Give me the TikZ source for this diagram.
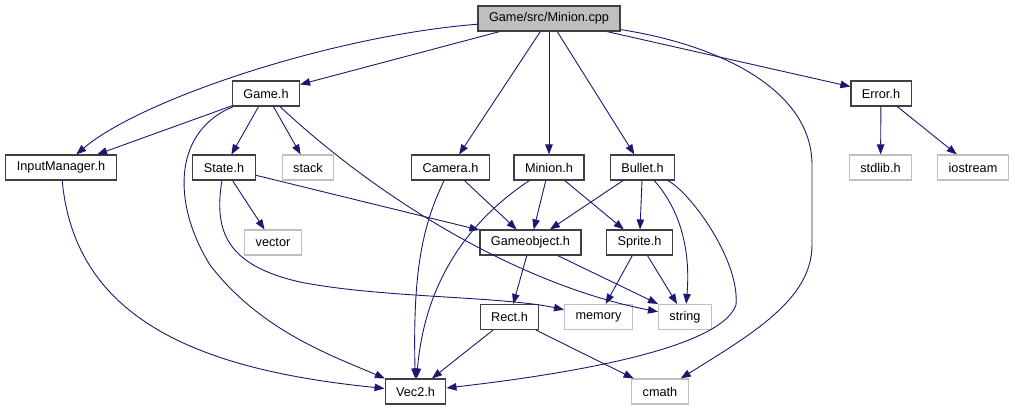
\documentclass[tikz,border=0pt]{standalone}
\usepackage{fontspec}
\setmainfont{Liberation Sans}
\usetikzlibrary{arrows.meta}
\definecolor{Edge}{HTML}{191970}
\definecolor{Frame}{HTML}{404040}
\definecolor{SysGray}{HTML}{BFBFBF}
\tikzset{
  header/.style={
    draw=Frame, line width=1.1pt, fill=white,
    minimum height=25pt, inner xsep=11pt, inner ysep=0pt,
    font=\fontsize{12.7}{14}\selectfont
  },
  syshead/.style={header, draw=SysGray},
  source/.style={header, fill=SysGray},
  dep/.style={-{Triangle[length=10pt,width=7.5pt]}, line width=0.9pt, draw=Edge}
}
\begin{document}
\begin{tikzpicture}[x=1pt,y=-1pt]
    \useasboundingbox (0,0) rectangle (1015,411);
    \node[source] (cpp) at (549,18.5) {Game/src/Minion.cpp};
    \node[header] (gameh) at (266,93.5) {Game.h};
    \node[header] (error) at (881,93.5) {Error.h};
    \node[header] (input) at (61,167.5) {InputManager.h};
    \node[header] (state) at (224,167.5) {State.h};
    \node[syshead] (stack) at (308,167.5) {stack};
    \node[header] (camera) at (450.5,167.5) {Camera.h};
    \node[header] (minion) at (549,167.5) {Minion.h};
    \node[header] (bullet) at (642.5,167.5) {Bullet.h};
    \node[syshead] (stdlib) at (880.5,167.5) {stdlib.h};
    \node[syshead] (iostream) at (973,167.5) {iostream};
    \node[syshead] (vector) at (273,242.5) {vector};
    \node[header] (gobj) at (530.5,242.5) {Gameobject.h};
    \node[header] (sprite) at (639.5,242.5) {Sprite.h};
    \node[header] (rect) at (509.5,317) {Rect.h};
    \node[syshead] (memory) at (598.5,317) {memory};
    \node[syshead] (string) at (685,317) {string};
    \node[header] (vec) at (415.5,391.5) {Vec2.h};
    \node[syshead] (cmath) at (660,391.5) {cmath};
    \draw[dep] (cpp) .. controls (330,36) and (140,100) .. (input);
    \draw[dep] (cpp) -- (gameh);
    \draw[dep] (cpp) -- (camera);
    \draw[dep] (cpp) -- (minion);
    \draw[dep] (cpp) -- (bullet);
    \draw[dep] (cpp) -- (error);
    \draw[dep] (cpp) .. controls (720,45) and (812,90) .. (812,165) -- (812,245)
      .. controls (812,300) and (750,335) .. (cmath);
    \draw[dep] (gameh) -- (input);
    \draw[dep] (gameh) -- (state);
    \draw[dep] (gameh) -- (stack);
    \draw[dep] (gameh) .. controls (175,130) and (170,200) .. (210,265)
      .. controls (260,330) and (330,355) .. (vec);
    \draw[dep] (gameh) .. controls (380,200) and (520,285) .. (string);
    \draw[dep] (input) .. controls (75,320) and (200,370) .. (vec);
    \draw[dep] (state) -- (vector);
    \draw[dep] (state) -- (gobj);
    \draw[dep] (state) .. controls (214,230) and (225,265) .. (300,282)
      .. controls (380,298) and (500,296) .. (memory);
    \draw[dep] (camera) .. controls (420,230) and (413,280) .. (vec);
    \draw[dep] (camera) -- (gobj);
    \draw[dep] (minion) .. controls (470,220) and (425,280) .. (vec);
    \draw[dep] (minion) -- (gobj);
    \draw[dep] (minion) -- (sprite);
    \draw[dep] (bullet) -- (gobj);
    \draw[dep] (bullet) -- (sprite);
    \draw[dep] (bullet) .. controls (685,215) and (690,260) .. (string);
    \draw[dep] (bullet) .. controls (690,192) and (740,260) .. (736,305)
      .. controls (720,350) and (560,375) .. (vec);
    \draw[dep] (gobj) -- (rect);
    \draw[dep] (gobj) -- (string);
    \draw[dep] (sprite) -- (memory);
    \draw[dep] (sprite) -- (string);
    \draw[dep] (rect) -- (vec);
    \draw[dep] (rect) -- (cmath);
    \draw[dep] (error) -- (stdlib);
    \draw[dep] (error) -- (iostream);
\end{tikzpicture}
\end{document}
